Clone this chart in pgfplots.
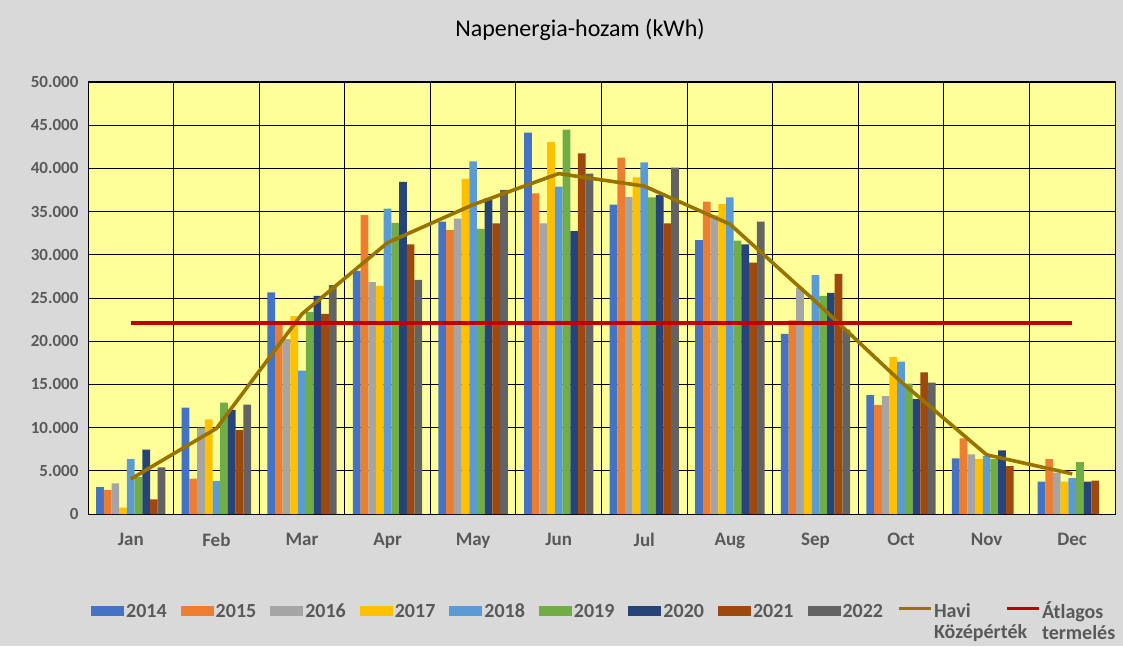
\documentclass[border=0pt]{standalone}
\usepackage{fontspec}
\setmainfont{Carlito}
\usepackage{pgfplots}
\pgfplotsset{compat=1.18}
\definecolor{cA}{HTML}{4472C4}
\definecolor{cB}{HTML}{ED7D31}
\definecolor{cC}{HTML}{A5A5A5}
\definecolor{cD}{HTML}{FFC000}
\definecolor{cE}{HTML}{5B9BD5}
\definecolor{cF}{HTML}{70AD47}
\definecolor{cG}{HTML}{264478}
\definecolor{cH}{HTML}{9E480E}
\definecolor{cI}{HTML}{636363}
\definecolor{havi}{HTML}{997300}
\definecolor{atl}{HTML}{C00000}
\definecolor{bggray}{HTML}{D9D9D9}
\definecolor{plotyellow}{HTML}{FFFF99}
\definecolor{txtgray}{HTML}{595959}
\pgfplotsset{
  mybar/.style={ybar, bar width=7.7pt, bar shift=#1, draw=none,
    legend image code/.code={\fill[##1] (0pt,-5pt) rectangle (33pt,5pt);}},
  myline/.style={sharp plot, line width=3.6pt, line join=round, mark=none,
    legend image code/.code={\draw[##1, line width=3pt] (0pt,3pt) -- (32pt,3pt);}},
}
\begin{document}
\begin{tikzpicture}[x=1pt,y=1pt]
\useasboundingbox (0,0) rectangle (1123,646);
\fill[bggray] (0,0) rectangle (1123,646);
\node[font=\fontsize{24}{27}\selectfont, text=black] at (580,616) {Napenergia-hozam (kWh)};
\begin{axis}[
  at={(88pt,132pt)}, anchor=south west,
  width=1027pt, height=432pt, scale only axis,
  xmin=-0.5, xmax=11.5, ymin=0, ymax=50000,
  xtick={0,1,2,3,4,5,6,7,8,9,10,11},
  xticklabels={Jan,Feb,Mar,Apr,May,Jun,Jul,Aug,Sep,Oct,Nov,Dec},
  minor xtick={-0.5,0.5,1.5,2.5,3.5,4.5,5.5,6.5,7.5,8.5,9.5,10.5,11.5},
  ytick={0,5000,10000,15000,20000,25000,30000,35000,40000,45000,50000},
  ymajorgrids, xminorgrids,
  major grid style={black, line width=0.9pt},
  minor grid style={black, line width=0.9pt},
  major tick length=0pt, minor tick length=0pt,
  axis line style={black, line width=1pt},
  axis background/.style={fill=plotyellow},
  scaled y ticks=false,
  /pgf/number format/.cd, 1000 sep={.}, assume math mode=true,
  /pgfplots/.cd,
  ticklabel style={font=\fontsize{17}{20}\selectfont\bfseries, text=txtgray},
  yticklabel style={xshift=-6pt},
  xticklabel style={yshift=-16pt, font=\fontsize{19}{22}\selectfont\bfseries},
  legend style={at={(0.0,-0.225)}, anchor=west, legend columns=11, draw=none, fill=none,
    font=\fontsize{20}{21}\selectfont\bfseries, text=txtgray,
    /tikz/every even column/.append style={column sep=12pt},
    /tikz/column 18/.style={column sep=23pt}},
  legend cell align=left,
]
\addplot[mybar=-30.8pt, fill=cA] coordinates {(0,3100) (1,12300) (2,25650) (3,28150) (4,33850) (5,44150) (6,35800) (7,31700) (8,20850) (9,13750) (10,6450) (11,3750)};
\addplot[mybar=-23.1pt, fill=cB] coordinates {(0,2800) (1,4100) (2,22000) (3,34600) (4,32850) (5,37100) (6,41250) (7,36150) (8,22400) (9,12600) (10,8750) (11,6350)};
\addplot[mybar=-15.4pt, fill=cC] coordinates {(0,3550) (1,10000) (2,20250) (3,26850) (4,34200) (5,33650) (6,36700) (7,34550) (8,26200) (9,13650) (10,6900) (11,4800)};
\addplot[mybar=-7.7pt, fill=cD] coordinates {(0,750) (1,10950) (2,22900) (3,26400) (4,38800) (5,43050) (6,38950) (7,35900) (8,22050) (9,18150) (10,6350) (11,3750)};
\addplot[mybar=0pt, fill=cE] coordinates {(0,6350) (1,3800) (2,16600) (3,35350) (4,40800) (5,37900) (6,40700) (7,36650) (8,27650) (9,17650) (10,6700) (11,4150)};
\addplot[mybar=7.7pt, fill=cF] coordinates {(0,4300) (1,12900) (2,23400) (3,33700) (4,33000) (5,44500) (6,36650) (7,31650) (8,25250) (9,15100) (10,6350) (11,6000)};
\addplot[mybar=15.4pt, fill=cG] coordinates {(0,7450) (1,12050) (2,25250) (3,38450) (4,36550) (5,32750) (6,36900) (7,31200) (8,25600) (9,13300) (10,7350) (11,3750)};
\addplot[mybar=23.1pt, fill=cH] coordinates {(0,1700) (1,9700) (2,23150) (3,31200) (4,33650) (5,41750) (6,33650) (7,29100) (8,27800) (9,16400) (10,5550) (11,3850)};
\addplot[mybar=30.8pt, fill=cI] coordinates {(0,5400) (1,12650) (2,26500) (3,27100) (4,37500) (5,39400) (6,40100) (7,33850) (8,21350) (9,15200)};
\addplot[myline, color=havi] coordinates {(0,4050) (1,9900) (2,23150) (3,31400) (4,35800) (5,39400) (6,37950) (7,33550) (8,24600) (9,15300) (10,6850) (11,4650)};
\addplot[myline, color=atl] coordinates {(0,22100) (1,22100) (2,22100) (3,22100) (4,22100) (5,22100) (6,22100) (7,22100) (8,22100) (9,22100) (10,22100) (11,22100)};
\legend{2014,2015,2016,2017,2018,2019,2020,2021,2022,{\makebox[57pt][l]{\begin{tabular}[t]{@{}l@{}}Havi\\Középérték\end{tabular}}},{\begin{tabular}[t]{@{}l@{}}Átlagos\\termelés\end{tabular}}}
\end{axis}
\end{tikzpicture}
\end{document}
